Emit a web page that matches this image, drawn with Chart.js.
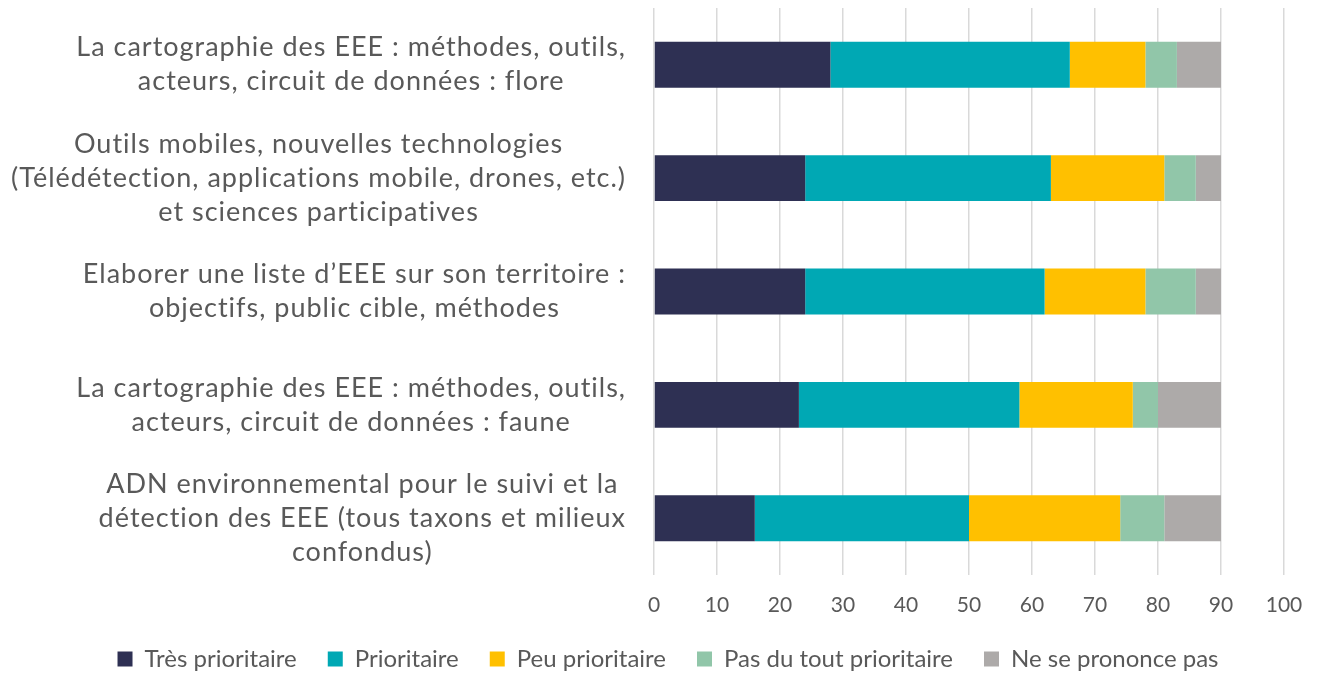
<!DOCTYPE html>
<html>
<head>
<meta charset="utf-8">
<script src="https://cdn.jsdelivr.net/npm/chart.js@4"></script>
<style>
html,body{margin:0;padding:0;background:#fff;}
#wrap{width:1317px;height:676px;position:relative;}
</style>
</head>
<body>
<div id="wrap"><canvas id="c" width="1317" height="676"></canvas></div>
<script>
const categories = [
  ['La cartographie des EEE : méthodes, outils,', 'acteurs, circuit de données : flore'],
  ['Outils mobiles, nouvelles technologies', '(Télédétection, applications mobile, drones, etc.)', 'et sciences participatives'],
  ['Elaborer une liste d’EEE sur son territoire :', 'objectifs, public cible, méthodes'],
  ['La cartographie des EEE : méthodes, outils,', 'acteurs, circuit de données : faune'],
  ['ADN environnemental pour le suivi et la', 'détection des EEE (tous taxons et milieux', 'confondus)']
];
const seriesNames = ['Très prioritaire', 'Prioritaire', 'Peu prioritaire', 'Pas du tout prioritaire', 'Ne se prononce pas'];
const tresPrioritaire = [28, 24, 24, 23, 16];
const prioritaire = [38, 39, 38, 35, 34];
const peuPrioritaire = [12, 18, 16, 18, 24];
const pasDuToutPrioritaire = [5, 5, 8, 4, 7];
const neSePrononcePas = [7, 4, 4, 10, 9];
const xTicks = [0, 10, 20, 30, 40, 50, 60, 70, 80, 90, 100];

const colors = ['#2E3053', '#00A8B4', '#FFC000', '#91C6A9', '#ADAAA9'];
const seriesValues = [tresPrioritaire, prioritaire, peuPrioritaire, pasDuToutPrioritaire, neSePrononcePas];

const FONT = 'Lato, "Open Sans", sans-serif';
const TEXT = '#595959';

const labelPlugin = {
  id: 'blockLabels',
  afterLayout(chart) {
    if (chart.legend) { chart.legend.left += 26; chart.legend.right += 26; }
  },
  afterDraw(chart) {
    const ctx = chart.ctx;
    const y = chart.scales.y;
    const right = chart.chartArea.left - 28;
    const lh = 34;
    ctx.save();
    ctx.font = '27px ' + FONT;
    try { ctx.letterSpacing = '1px'; } catch (e) {}
    ctx.fillStyle = TEXT;
    ctx.textAlign = 'center';
    ctx.textBaseline = 'middle';
    categories.forEach((lines, i) => {
      const cy = y.getPixelForTick(i);
      let maxW = 0;
      lines.forEach(l => { maxW = Math.max(maxW, ctx.measureText(l).width); });
      const cx = right - maxW / 2;
      const startY = cy - (lines.length - 1) * lh / 2;
      lines.forEach((l, k) => ctx.fillText(l, cx, startY + k * lh));
    });
    ctx.restore();
  }
};

new Chart(document.getElementById('c'), {
  type: 'bar',
  data: {
    labels: categories,
    datasets: seriesNames.map((n, i) => ({
      label: n,
      data: seriesValues[i],
      backgroundColor: colors[i],
      borderWidth: 0,
      categoryPercentage: 1,
      barPercentage: 0.405
    }))
  },
  options: {
    indexAxis: 'y',
    responsive: false,
    animation: false,
    devicePixelRatio: 1,
    layout: { padding: { left: 0, right: 33, top: 8, bottom: -5 } },
    scales: {
      x: {
        stacked: true,
        min: 0,
        max: 100,
        afterBuildTicks(scale) { scale.ticks = xTicks.map(v => ({ value: v })); },
        grid: { color: '#D9D9D9', lineWidth: 1.5, drawTicks: false },
        border: { display: false },
        ticks: { font: { family: FONT, size: 21 }, color: TEXT, padding: 18 },
        afterFit(scale) { scale.height = 41; scale.paddingLeft = 0; scale.paddingRight = 0; }
      },
      y: {
        stacked: true,
        grid: { display: false },
        border: { display: false },
        ticks: { display: false },
        afterFit(scale) { scale.width = 654; }
      }
    },
    plugins: {
      legend: {
        position: 'bottom',
        labels: {
          font: { family: FONT, size: 24 },
          color: TEXT,
          boxWidth: 15,
          boxHeight: 15,
          padding: 31
        }
      },
      tooltip: { enabled: false }
    }
  },
  plugins: [labelPlugin]
});
</script>
</body>
</html>
